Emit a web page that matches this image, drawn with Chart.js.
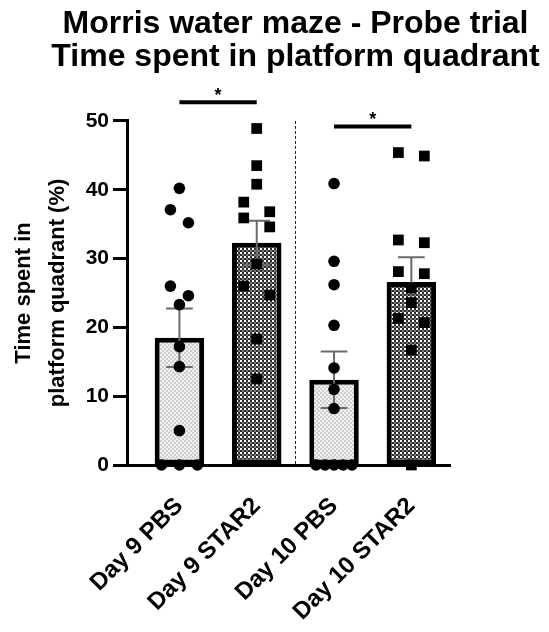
<!DOCTYPE html>
<html>
<head>
<meta charset="utf-8">
<script src="https://cdn.jsdelivr.net/npm/chart.js@4/dist/chart.umd.min.js"></script>
<style>
  html, body { margin: 0; padding: 0; background: #fff; }
  #wrap { width: 549px; height: 632px; position: relative; }
</style>
</head>
<body>
<div id="wrap"><canvas id="c" width="549" height="632"></canvas></div>
<script>
// ---- data ----
const chartTitle = ['Morris water maze - Probe trial', 'Time spent in platform quadrant'];
const yTitle = ['Time spent in', 'platform quadrant (%)'];
const categories = ['Day 9 PBS', 'Day 9 STAR2', 'Day 10 PBS', 'Day 10 STAR2'];
const means = [18.5, 32.3, 12.4, 26.6];
const sems = [4.25, 3.2, 4.1, 3.6];
const day9PBS = [40.2, 37.1, 35.2, 26.0, 24.6, 23.3, 17.2, 14.3, 5.0, 0, 0, 0];
const day9STAR2 = [48.9, 43.5, 40.8, 38.2, 36.8, 35.9, 34.6, 29.2, 26.0, 24.7, 18.3, 12.5];
const day10PBS = [40.9, 29.6, 26.2, 20.3, 14.1, 11.0, 8.2, 0, 0, 0, 0, 0];
const day10STAR2 = [45.4, 44.9, 32.7, 32.3, 28.1, 27.8, 25.7, 23.6, 21.3, 20.7, 16.7, 0];
const yTicks = [0, 10, 20, 30, 40, 50];
const comparisons = [[0, 1, '*'], [2, 3, '*']];
const groupSplits = [1.5];

// ---- styling helpers ----
const FONT = "'Liberation Sans', Arial, sans-serif";
function makePattern(draw) {
  const c = document.createElement('canvas');
  c.width = 4; c.height = 4;
  const g = c.getContext('2d');
  draw(g);
  return g.createPattern(c, 'repeat');
}
const ctx = document.getElementById('c').getContext('2d');
const lightPattern = makePattern(g => {
  g.fillStyle = '#f1f1f1'; g.fillRect(0, 0, 4, 4);
  g.fillStyle = '#cfcfcf'; g.fillRect(0, 0, 2, 2); g.fillRect(2, 2, 2, 2);
});
const darkPattern = makePattern(g => {
  g.fillStyle = '#2e2e2e'; g.fillRect(0, 0, 4, 4);
  g.fillStyle = '#fff'; g.fillRect(0, 0, 2, 2);
  g.fillStyle = '#7a7a7a'; g.fillRect(2, 2, 2, 2);
});

// swarm-like horizontal spreading of points that share a row
function swarm(values, index, step, maxSpread) {
  const sorted = values.map(v => v).sort((a, b) => b - a);
  const rows = [];
  sorted.forEach(v => {
    const row = rows[rows.length - 1];
    if (row && row[0] - v < 2) row.push(v); else rows.push([v]);
  });
  const pts = [];
  rows.forEach(row => {
    const n = row.length;
    const s = n > 1 ? Math.min(step, maxSpread / (n - 1)) : 0;
    row.forEach((v, j) => pts.push({ x: index + (j - (n - 1) / 2) * s, y: v }));
  });
  return pts;
}
const groups = [day9PBS, day9STAR2, day10PBS, day10STAR2];
const isStar = [false, true, false, true];

const scatterSets = groups.map((vals, i) => ({
  type: 'scatter',
  data: swarm(vals, i, isStar[i] ? 0.336 : 0.233, 0.465),
  pointStyle: isStar[i] ? 'rect' : 'circle',
  pointRadius: isStar[i] ? 7.6 : 5.8,
  pointHoverRadius: isStar[i] ? 7.6 : 5.8,
  backgroundColor: '#000',
  borderWidth: 0,
  clip: false,
  order: 0
}));

const overlay = {
  id: 'overlay',
  afterDatasetDraw(chart, args) {
    if (args.meta.type !== 'bar') return;
    const c = chart.ctx, ys = chart.scales.y;
    c.save();
    c.strokeStyle = '#6a6a6a';
    c.lineWidth = 2;
    args.meta.data.forEach((bar, i) => {
      const x = bar.x;
      const half = bar.width * 0.27;
      const yt = ys.getPixelForValue(means[i] + sems[i]);
      const yb = ys.getPixelForValue(means[i] - sems[i]);
      c.beginPath();
      c.moveTo(x, yt); c.lineTo(x, yb);
      c.moveTo(x - half, yt); c.lineTo(x + half, yt);
      c.moveTo(x - half, yb); c.lineTo(x + half, yb);
      c.stroke();
    });
    c.restore();
  },
  afterDatasetsDraw(chart) {
    const c = chart.ctx, xs = chart.scales.x, ys = chart.scales.y;
    c.save();
    // dashed separators between days
    c.strokeStyle = '#222';
    c.lineWidth = 1;
    c.setLineDash([3, 2]);
    groupSplits.forEach(v => {
      const x = Math.round(xs.getPixelForValue(v)) + 0.5;
      c.beginPath();
      c.moveTo(x, ys.getPixelForValue(50));
      c.lineTo(x, ys.getPixelForValue(0));
      c.stroke();
    });
    c.setLineDash([]);
    // significance bars
    comparisons.forEach(([a, b, label]) => {
      const top = Math.max(...groups[a], ...groups[b]) + 3.8;
      const y = ys.getPixelForValue(top);
      const x1 = xs.getPixelForValue(a), x2 = xs.getPixelForValue(b);
      c.strokeStyle = '#000';
      c.lineWidth = 4;
      c.beginPath(); c.moveTo(x1, y); c.lineTo(x2, y); c.stroke();
      c.fillStyle = '#000';
      c.font = 'bold 18px ' + FONT;
      c.textAlign = 'center';
      c.textBaseline = 'alphabetic';
      c.fillText(label, (x1 + x2) / 2, y - 1);
    });
    c.restore();
  }
};

new Chart(ctx, {
  data: {
    datasets: [
      {
        type: 'bar',
        data: means.map((m, i) => ({ x: i, y: m })),
        backgroundColor: [lightPattern, darkPattern, lightPattern, darkPattern],
        borderColor: '#000',
        borderWidth: 5,
        borderSkipped: false,
        barPercentage: 0.64,
        categoryPercentage: 1,
        order: 1
      },
      ...scatterSets
    ]
  },
  options: {
    responsive: false,
    animation: false,
    events: [],
    layout: { padding: { left: 42, right: 0, top: 0, bottom: 0 } },
    plugins: {
      legend: { display: false },
      tooltip: { enabled: false },
      title: {
        display: true,
        text: chartTitle,
        color: '#000',
        font: { family: FONT, size: 32, weight: 'bold', lineHeight: 1.03 },
        padding: { top: 8, bottom: 47 }
      }
    },
    scales: {
      x: {
        type: 'linear',
        min: -0.678,
        max: 3.5,
        offset: false,
        bounds: 'data',
        afterBuildTicks: s => { s.ticks = categories.map((_, i) => ({ value: i })); },
        afterFit: s => { s.height = 167; },
        grid: { display: false, drawTicks: false, offset: false },
        border: { display: true, color: '#000', width: 3 },
        ticks: {
          autoSkip: false,
          minRotation: 45,
          maxRotation: 45,
          padding: 27,
          color: '#000',
          font: { family: FONT, size: 24, weight: 'bold' },
          callback: v => categories[v]
        }
      },
      y: {
        type: 'linear',
        min: 0,
        max: 50,
        afterBuildTicks: s => { s.ticks = yTicks.map(v => ({ value: v })); },
        afterFit: s => { s.width = 85; },
        grid: { drawOnChartArea: false, drawTicks: true, tickLength: 14, tickWidth: 3, tickColor: '#000', color: '#000' },
        border: { display: true, color: '#000', width: 3 },
        ticks: {
          padding: 4,
          color: '#000',
          font: { family: FONT, size: 21, weight: 'bold' }
        },
        title: {
          display: true,
          text: yTitle,
          color: '#000',
          font: { family: FONT, size: 22, weight: 'bold', lineHeight: 1.55 },
          padding: { top: -35, bottom: 0 }
        }
      },
      pad: {
        type: 'linear',
        position: 'right',
        display: true,
        afterFit: s => { s.width = 99; },
        grid: { display: false },
        border: { display: false },
        ticks: { display: false }
      }
    }
  },
  plugins: [overlay]
});
</script>
</body>
</html>
